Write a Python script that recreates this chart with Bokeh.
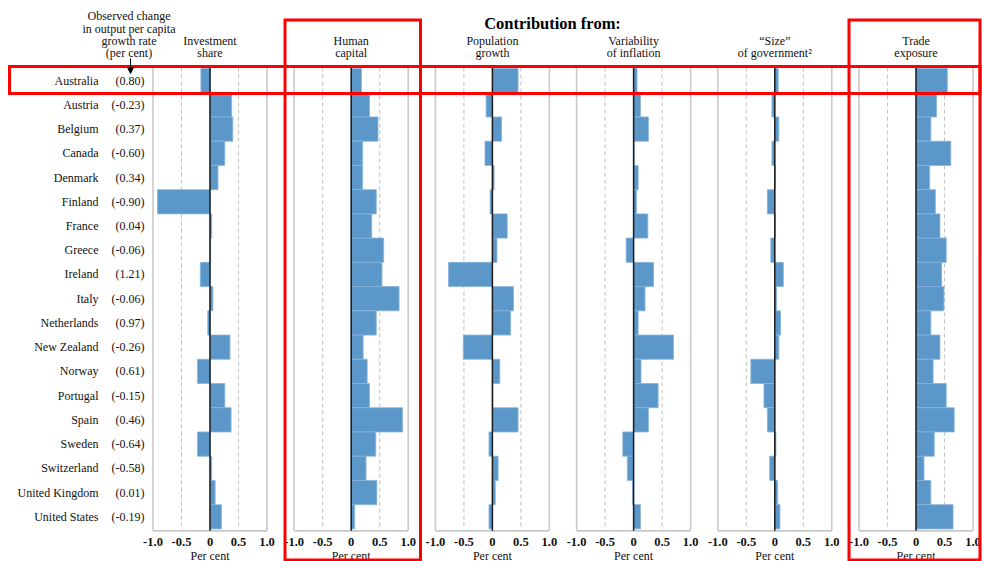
from bokeh.plotting import figure
from bokeh.models import Range1d, ColumnDataSource, Arrow, NormalHead
from bokeh.core.properties import value
from bokeh.embed import file_html
from bokeh.resources import INLINE

# ---------------- data ----------------
countries = ["Australia", "Austria", "Belgium", "Canada", "Denmark", "Finland", "France",
             "Greece", "Ireland", "Italy", "Netherlands", "New Zealand", "Norway",
             "Portugal", "Spain", "Sweden", "Switzerland", "United Kingdom", "United States"]
observed = [0.80, -0.23, 0.37, -0.60, 0.34, -0.90, 0.04, -0.06, 1.21, -0.06, 0.97,
            -0.26, 0.61, -0.15, 0.46, -0.64, -0.58, 0.01, -0.19]
investment = [-0.16, 0.38, 0.40, 0.26, 0.14, -0.92, 0.03, 0.01, -0.17, 0.05, -0.04,
              0.35, -0.22, 0.26, 0.37, -0.22, 0.03, 0.09, 0.20]
human = [0.18, 0.32, 0.47, 0.20, 0.20, 0.44, 0.36, 0.57, 0.54, 0.84, 0.44,
         0.21, 0.28, 0.32, 0.90, 0.43, 0.26, 0.45, 0.06]
population = [0.45, -0.11, 0.16, -0.13, 0.03, -0.04, 0.26, 0.08, -0.77, 0.37, 0.32,
              -0.51, 0.13, 0.01, 0.45, -0.06, 0.10, 0.05, -0.06]
inflation = [0.06, 0.12, 0.26, 0.01, 0.08, 0.05, 0.25, -0.13, 0.35, 0.20, 0.08,
             0.70, 0.13, 0.43, 0.26, -0.19, -0.11, -0.02, 0.12]
government = [0.06, -0.05, 0.07, -0.05, 0.01, -0.13, 0.01, -0.07, 0.15, 0.03, 0.10,
              0.07, -0.42, -0.19, -0.13, 0.02, -0.09, 0.05, 0.09]
trade = [0.55, 0.36, 0.26, 0.61, 0.24, 0.34, 0.42, 0.53, 0.45, 0.49, 0.26,
         0.42, 0.30, 0.53, 0.67, 0.32, 0.14, 0.26, 0.65]

series = [investment, human, population, inflation, government, trade]
panel_titles = [["Investment", "share"], ["Human", "capital"], ["Population", "growth"],
                ["Variability", "of inflation"], ["\u201cSize\u201d", "of government\u00b2"],
                ["Trade", "exposure"]]
tick_values = [-1.0, -0.5, 0.0, 0.5, 1.0]
tick_labels = ["-1.0", "-0.5", "0", "0.5", "1.0"]
observed_title = ["Observed change", "in output per capita", "growth rate", "(per cent)"]
main_title = "Contribution from:"
axis_title = "Per cent"

# ---------------- layout constants (pixels) ----------------
W, H = 982, 561
L0, STEP, PW = 152.5, 141.2, 114.0     # panel frame left, spacing, width
T, B = 68.0, 528.4                      # top / bottom of the bar rows
FONT = value("Liberation Serif")
BAR = "#5B98C9"
N = len(countries)

p = figure(width=W, height=H, x_range=Range1d(0, W), y_range=Range1d(H, 0),
           min_border=0, toolbar_location=None, output_backend="svg")
p.axis.visible = False
p.grid.visible = False
p.outline_line_color = None
p.background_fill_color = "white"
p.border_fill_color = "white"

# row range: index -0.5 at T, N-0.5 at B (flipped)
k = N * H / (B - T)
e = -0.5 - T * k / H
p.extra_y_ranges = {"rows": Range1d(start=e + k, end=e)}

rows = list(range(N))
ranges = {}
for i in range(6):
    Lp = L0 + i * STEP
    Rp = Lp + PW
    kx = 2 * W / (Rp - Lp)
    s = -1 - Lp * kx / W
    ranges[f"p{i}"] = Range1d(start=s, end=s + kx)
p.extra_x_ranges = ranges

y_top, y_bot = -0.54, N - 0.42
for i, vals in enumerate(series):
    rn = f"p{i}"
    # frame: solid grey at +-1, dashed at +-0.5, bottom line
    p.segment(x0=[-1, 1], y0=[y_top, y_top], x1=[-1, 1], y1=[y_bot, y_bot],
              line_color="#c9c9c9", line_width=1.6, x_range_name=rn, y_range_name="rows")
    p.segment(x0=[-0.5, 0.5], y0=[y_top, y_top], x1=[-0.5, 0.5], y1=[y_bot, y_bot],
              line_color="#c4c4c4", line_width=1.1, line_dash="4 3",
              x_range_name=rn, y_range_name="rows")
    p.segment(x0=[-1], y0=[y_bot], x1=[1], y1=[y_bot],
              line_color="#c9c9c9", line_width=1.6, x_range_name=rn, y_range_name="rows")
    src = ColumnDataSource(dict(row=rows, val=vals))
    p.hbar(y="row", left=0, right="val", height=1.0, source=src,
           fill_color=BAR, line_color="#86B4DC", line_width=0.8,
           x_range_name=rn, y_range_name="rows")
    p.segment(x0=[0], y0=[y_top], x1=[0], y1=[y_bot], line_color="#1a1a1a",
              line_width=1.5, x_range_name=rn, y_range_name="rows")
    # tick labels and axis title
    p.text(x=tick_values, y=[541.0] * len(tick_values), text=tick_labels,
           text_align="center", text_baseline="middle", text_font=FONT,
           text_font_style="bold", text_font_size="12.5px", text_color="#111111",
           x_range_name=rn)
    p.text(x=[0], y=[555.0], text=[axis_title], text_align="center",
           text_baseline="middle", text_font=FONT, text_font_size="12px",
           text_color="#111111", x_range_name=rn)
    # panel header
    p.text(x=[0, 0], y=[40.0, 52.5], text=panel_titles[i], text_align="center",
           text_baseline="middle", text_font=FONT, text_font_size="12px",
           text_color="#111111", x_range_name=rn)

# country labels and observed values
p.text(x=[98.0] * N, y=rows, text=countries, text_align="right", text_baseline="middle",
       text_font=FONT, text_font_size="12px", text_color="#111111", y_range_name="rows")
p.text(x=[144.0] * N, y=rows, text=["(%.2f)" % v for v in observed], text_align="right",
       text_baseline="middle", text_font=FONT, text_font_size="12px",
       text_color="#111111", y_range_name="rows")

# headers
p.text(x=[128.5] * 4, y=[15.0, 28.0, 40.5, 52.5], text=observed_title, text_align="center",
       text_baseline="middle", text_font=FONT, text_font_size="12px", text_color="#111111")
p.text(x=[552.0], y=[23.0], text=[main_title], text_align="center", text_baseline="middle",
       text_font=FONT, text_font_style="bold", text_font_size="16.5px", text_color="#000000")
p.add_layout(Arrow(end=NormalHead(size=6, fill_color="black", line_color="black"),
                   x_start=130.0, y_start=58.0, x_end=130.0, y_end=73.0,
                   line_color="black", line_width=1))

# red highlight boxes
p.quad(left=[9.0, 284.5, 848.5], right=[979.5, 420.0, 979.5],
       top=[66.0, 19.5, 19.5], bottom=[93.0, 559.5, 559.5],
       fill_color=None, line_color="#ff0000", line_width=3, line_join="miter")

open("out.html", "w").write(file_html(p, INLINE))
